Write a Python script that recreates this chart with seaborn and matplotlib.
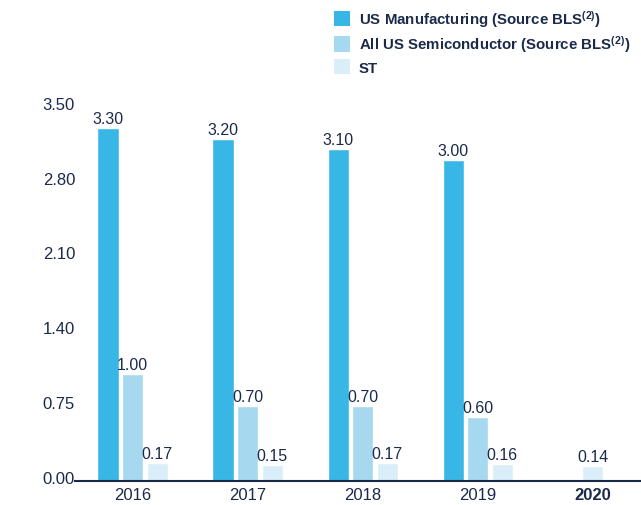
import matplotlib
matplotlib.use("Agg")
import matplotlib.pyplot as plt
import matplotlib.transforms as mtransforms
from matplotlib.patches import Patch
import seaborn as sns
import pandas as pd
import numpy as np

years = ["2016", "2017", "2018", "2019", "2020"]
us_manufacturing = [3.30, 3.20, 3.10, 3.00, np.nan]
us_semiconductor = [1.00, 0.70, 0.70, 0.60, np.nan]
st_values = [0.17, 0.15, 0.17, 0.16, 0.14]
series_names = ["US Manufacturing (Source BLS$^{(2)}$)",
                "All US Semiconductor (Source BLS$^{(2)}$)",
                "ST"]
ytick_vals = [0.0, 0.7, 1.4, 2.1, 2.8, 3.5]
ytick_labels = ["0.00", "0.75", "1.40", "2.10", "2.80", "3.50"]
colors = ["#38b6e6", "#a6d8f0", "#daeef9"]
navy = "#1b2a4a"

sns.set_theme(style="white")
font = ["Liberation Sans", "DejaVu Sans"]
plt.rcParams["font.family"] = font
plt.rcParams["mathtext.fontset"] = "custom"
plt.rcParams["mathtext.rm"] = "Liberation Sans:bold"
plt.rcParams["mathtext.default"] = "rm"

rows = []
for vals, name in zip([us_manufacturing, us_semiconductor, st_values], series_names):
    for y, v in zip(years, vals):
        rows.append({"year": y, "value": v, "series": name})
df = pd.DataFrame(rows)

fig = plt.figure(figsize=(6.41, 5.06), dpi=100)
ax = fig.add_axes([75/641, 24/506, 566/641, 385/506])

sns.barplot(data=df, x="year", y="value", hue="series", order=years,
            hue_order=series_names, palette=colors, width=0.64, gap=0.14,
            dodge=True, legend=False, ax=ax, saturation=1)

# center the lone 2020 bar within its group
bars = [p for p in ax.patches if p.get_height() > 0 and not np.isnan(p.get_height())]
for p in bars:
    cx = p.get_x() + p.get_width() / 2
    if cx > 3.5:
        p.set_x(4 - p.get_width() / 2)

for p in bars:
    h = p.get_height()
    cx = p.get_x() + p.get_width() / 2
    ax.annotate(f"{h:.2f}", (cx, h), xytext=(0, 1.5), textcoords="offset points",
                ha="center", va="bottom", fontsize=11.5, color=navy)

ax.set_xlim(-0.5, 4.42)
ax.set_ylim(0, 3.6)
ax.set_yticks(ytick_vals)
ax.set_yticklabels(ytick_labels)
ax.set_xlabel("")
ax.set_ylabel("")
ax.tick_params(axis="both", length=0, colors=navy, labelsize=12)
ax.tick_params(axis="y", pad=0)
ax.tick_params(axis="x", pad=4)
offset = mtransforms.ScaledTranslation(0, 4/100, fig.dpi_scale_trans)
for lab in ax.get_yticklabels():
    lab.set_transform(lab.get_transform() + offset)
    lab.set_color(navy)
xl = ax.get_xticklabels()
for lab in xl:
    lab.set_color(navy)
xl[-1].set_fontweight("bold")

for s in ["top", "right", "left"]:
    ax.spines[s].set_visible(False)
ax.spines["bottom"].set_color(navy)
ax.spines["bottom"].set_linewidth(1.5)

handles = [Patch(facecolor=c, edgecolor="none") for c in colors]
leg = fig.legend(handles, series_names, loc="upper left",
                 bbox_to_anchor=(328/641, 1 - 3/506), frameon=False,
                 prop={"weight": "bold", "size": 10.8}, handlelength=1.05,
                 handleheight=1.2, handletextpad=0.6, labelspacing=0.3,
                 borderaxespad=0)
for t in leg.get_texts():
    t.set_color(navy)

fig.savefig("out.png", dpi=100)
